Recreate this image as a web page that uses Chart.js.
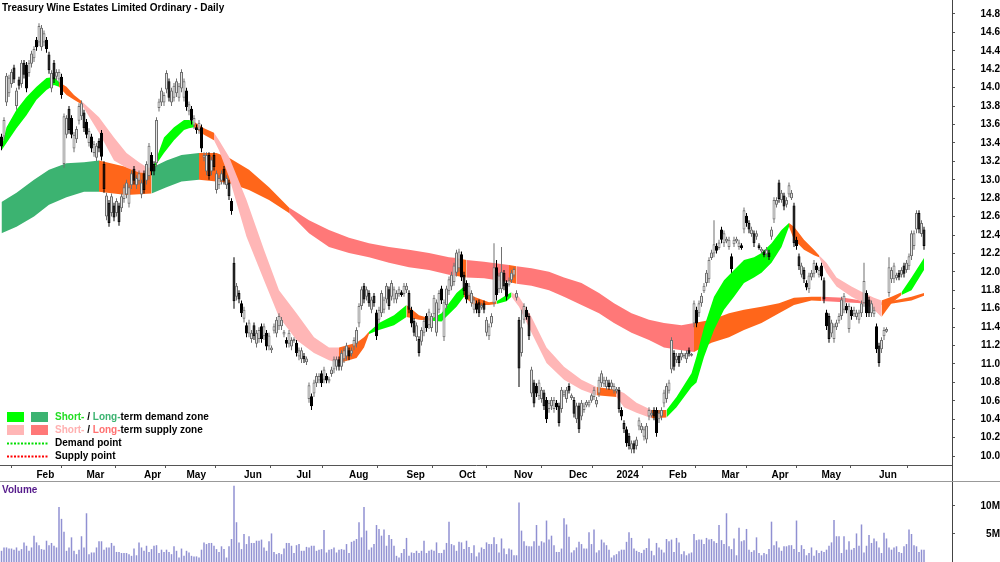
<!DOCTYPE html>
<html><head><meta charset="utf-8">
<script src="https://cdn.jsdelivr.net/npm/chart.js@4.4.1/dist/chart.umd.min.js"></script>
<style>
html,body{margin:0;padding:0;background:#fff;width:1000px;height:562px;overflow:hidden}
#price{position:absolute;left:0;top:0}
#vol{position:absolute;left:0;top:481px}
</style></head><body>
<canvas id="price" width="1000" height="481"></canvas>
<canvas id="vol" width="1000" height="81"></canvas>
<script>
const TITLE = 'Treasury Wine Estates Limited Ordinary - Daily';
const FONT = '"Liberation Sans", Arial, sans-serif';

// month boundaries (bar index) and their labels
const monthIdx = [14,34,57,74,97,118,139,162,183,205,227,246,267,288,308,328,351];
const monthLabels = ['Feb','Mar','Apr','May','Jun','Jul','Aug','Sep','Oct','Nov','Dec','2024','Feb','Mar','Apr','May','Jun'];
const priceTicks = [10.0,10.2,10.4,10.6,10.8,11.0,11.2,11.4,11.6,11.8,12.0,12.2,12.4,12.6,12.8,13.0,13.2,13.4,13.6,13.8,14.0,14.2,14.4,14.6,14.8];
const volTicks = [5, 10];
const volTickLabels = ['5M', '10M'];

const highs = [
13.50,13.68,14.16,14.14,14.20,14.25,14.00,14.12,14.30,14.30,
14.28,14.30,14.40,14.45,14.55,14.70,14.68,14.62,14.55,14.39,
14.19,14.30,14.20,14.20,14.15,13.72,13.70,13.80,13.70,13.52,
13.58,13.83,13.86,13.76,13.66,13.56,13.50,13.42,13.40,13.45,
13.54,13.20,12.86,12.78,12.85,12.75,12.80,12.75,12.85,12.95,
13.00,12.95,13.10,13.15,13.05,13.10,13.00,13.10,13.20,13.40,
13.30,13.20,13.68,13.88,14.00,13.95,14.19,14.10,14.00,14.05,
14.10,14.05,14.20,14.10,14.00,13.85,13.80,13.70,13.60,13.65,
13.60,13.30,13.30,13.30,13.25,13.30,13.10,13.05,13.10,13.15,
13.05,13.00,12.80,12.16,11.88,11.80,11.69,11.62,11.45,11.48,
11.37,11.45,11.37,11.40,11.44,11.44,11.37,11.34,11.20,11.44,
11.51,11.55,11.51,11.37,11.29,11.37,11.29,11.29,11.26,11.18,
11.18,11.12,11.08,10.80,10.68,10.83,10.90,10.90,10.93,10.97,
10.90,10.86,10.97,11.08,11.08,11.08,11.15,11.18,11.23,11.18,
11.18,11.29,11.40,11.66,11.84,11.88,11.84,11.80,11.73,11.77,
11.59,11.62,11.80,11.73,11.88,11.84,11.91,11.84,11.80,11.84,
11.80,11.88,11.88,11.80,11.62,11.50,11.45,11.30,11.40,11.50,
11.55,11.60,11.55,11.75,11.70,11.80,11.85,11.70,11.85,11.95,
12.00,12.10,12.24,12.25,12.22,12.00,11.91,11.88,11.80,11.73,
11.69,11.70,11.66,11.69,11.51,11.44,11.55,12.31,12.13,11.99,
12.27,12.02,11.91,11.94,12.02,12.05,11.80,11.51,11.59,11.66,
11.62,11.55,10.97,10.83,10.79,10.83,10.75,10.72,10.64,10.61,
10.64,10.64,10.61,10.58,10.75,10.72,10.75,10.79,10.68,10.64,
10.58,10.58,10.61,10.58,10.61,10.61,10.68,10.75,10.64,10.86,
10.93,10.86,10.86,10.83,10.83,10.79,10.75,10.75,10.53,10.39,
10.32,10.25,10.17,10.17,10.21,10.42,10.36,10.32,10.36,10.53,
10.50,10.53,10.53,10.50,10.53,10.72,10.79,10.83,11.29,11.15,
11.12,11.12,11.15,11.12,11.15,11.18,11.12,11.69,11.62,11.69,
11.77,11.88,12.02,12.16,12.24,12.56,12.31,12.35,12.49,12.45,
12.38,12.38,12.20,12.38,12.38,12.35,12.31,12.70,12.64,12.56,
12.49,12.45,12.45,12.31,12.27,12.24,12.27,12.24,12.49,12.81,
12.81,13.00,12.89,12.86,12.81,12.97,12.89,12.75,12.38,12.20,
12.10,12.05,11.91,11.99,12.02,12.13,12.10,12.05,12.10,11.94,
11.59,11.55,11.48,11.44,11.48,11.55,11.73,11.77,11.66,11.66,
11.62,11.62,11.59,11.59,11.69,12.10,11.80,11.73,11.69,11.62,
11.44,11.23,11.29,11.40,11.40,12.16,12.05,12.10,11.99,12.02,
12.05,12.10,12.13,12.20,12.45,12.45,12.67,12.67,12.56,12.49];

const lows = [
13.32,13.43,13.80,13.90,14.00,14.05,13.76,13.98,14.00,14.10,
13.95,14.12,14.22,14.28,14.40,14.45,14.40,14.45,14.38,14.15,
13.95,14.05,14.08,14.05,13.88,13.13,13.45,13.50,13.45,13.30,
13.40,13.60,13.65,13.52,13.45,13.36,13.30,13.25,13.20,13.30,
13.21,12.86,12.56,12.49,12.60,12.55,12.60,12.50,12.65,12.75,
12.80,12.70,12.90,12.95,12.90,12.95,12.80,12.85,12.95,13.00,
13.05,13.05,13.14,13.74,13.80,13.80,13.94,13.85,13.80,13.85,
13.90,13.85,13.95,13.85,13.75,13.70,13.60,13.55,13.50,13.50,
13.30,13.20,13.05,13.00,13.05,13.10,12.85,12.90,12.95,12.95,
12.90,12.78,12.62,11.60,11.69,11.66,11.51,11.45,11.29,11.29,
11.23,11.26,11.18,11.23,11.23,11.26,11.15,11.15,11.12,11.33,
11.29,11.37,11.37,11.29,11.18,11.18,11.15,11.23,11.08,11.04,
11.01,11.01,10.99,10.58,10.50,10.64,10.75,10.79,10.75,10.79,
10.79,10.79,10.86,10.90,10.93,10.93,10.93,11.01,11.04,11.04,
11.08,11.15,11.18,11.40,11.59,11.66,11.69,11.62,11.55,11.62,
11.26,11.44,11.51,11.55,11.66,11.59,11.69,11.66,11.66,11.73,
11.73,11.73,11.77,11.55,11.40,11.30,11.25,11.08,11.20,11.30,
11.35,11.38,11.35,11.50,11.30,11.55,11.65,11.25,11.60,11.75,
11.80,11.85,11.95,12.00,11.90,11.75,11.66,11.70,11.62,11.55,
11.55,11.51,11.59,11.55,11.30,11.26,11.40,11.62,11.69,11.77,
11.77,11.80,11.69,11.84,11.88,11.94,11.69,10.75,11.08,11.44,
11.48,11.26,10.64,10.53,10.64,10.61,10.58,10.50,10.36,10.47,
10.50,10.47,10.50,10.32,10.47,10.64,10.58,10.68,10.61,10.42,
10.36,10.25,10.39,10.47,10.53,10.53,10.58,10.61,10.53,10.64,
10.75,10.75,10.72,10.72,10.72,10.68,10.68,10.47,10.39,10.25,
10.10,10.07,10.03,10.03,10.07,10.28,10.25,10.17,10.14,10.39,
10.42,10.39,10.21,10.36,10.39,10.53,10.58,10.68,10.90,10.93,
11.01,10.97,11.04,11.06,11.01,11.08,11.08,11.40,11.40,11.51,
11.62,11.77,11.84,11.88,12.13,12.16,12.20,12.24,12.31,12.27,
12.31,12.24,11.99,12.27,12.31,12.24,12.24,12.42,12.49,12.42,
12.38,12.27,12.35,12.24,12.20,12.16,12.16,12.13,12.35,12.53,
12.70,12.75,12.75,12.67,12.70,12.81,12.78,12.27,12.24,12.02,
11.94,11.88,11.80,11.77,11.91,11.94,11.99,11.94,11.91,11.66,
11.37,11.23,11.29,11.23,11.37,11.44,11.48,11.55,11.55,11.34,
11.48,11.51,11.48,11.44,11.51,11.62,11.51,11.51,11.51,11.51,
11.12,10.97,11.12,11.26,11.34,11.73,11.88,11.88,11.91,11.91,
11.94,11.94,11.99,12.02,12.13,12.24,12.42,12.42,12.38,12.24];

const opens = [
13.47,13.47,13.84,13.94,14.04,14.22,13.80,14.09,14.04,14.27,
14.25,14.16,14.26,14.32,14.52,14.49,14.44,14.49,14.52,14.36,
13.99,14.27,14.12,14.09,14.12,13.17,13.49,13.77,13.67,13.34,
13.44,13.64,13.69,13.73,13.63,13.40,13.47,13.29,13.24,13.42,
13.51,13.17,12.60,12.75,12.64,12.72,12.64,12.72,12.69,12.79,
12.84,12.74,12.94,13.12,12.94,12.99,12.84,13.07,12.99,13.04,
13.27,13.17,13.18,13.78,13.84,13.84,13.98,14.07,13.84,13.89,
13.94,13.89,13.99,13.89,13.97,13.74,13.77,13.59,13.57,13.54,
13.57,13.24,13.09,13.27,13.09,13.27,12.89,12.94,12.99,13.12,
12.94,12.97,12.77,12.10,11.73,11.77,11.66,11.49,11.42,11.33,
11.27,11.42,11.22,11.27,11.41,11.30,11.34,11.19,11.15,11.36,
11.33,11.41,11.41,11.32,11.26,11.22,11.19,11.25,11.23,11.08,
11.05,11.09,11.02,10.62,10.65,10.68,10.79,10.82,10.90,10.83,
10.87,10.81,10.89,10.94,10.97,11.05,10.97,11.05,11.08,11.15,
11.11,11.19,11.22,11.44,11.63,11.85,11.73,11.77,11.59,11.74,
11.56,11.48,11.55,11.59,11.70,11.81,11.73,11.70,11.70,11.76,
11.78,11.76,11.80,11.77,11.59,11.47,11.29,11.27,11.24,11.34,
11.52,11.42,11.39,11.54,11.34,11.59,11.82,11.29,11.64,11.79,
11.84,11.89,11.99,12.04,12.19,11.97,11.88,11.74,11.66,11.59,
11.66,11.67,11.61,11.66,11.34,11.30,11.44,11.66,12.05,11.81,
11.81,11.99,11.88,11.86,11.91,11.96,11.72,11.48,11.12,11.48,
11.59,11.52,10.68,10.80,10.76,10.65,10.62,10.69,10.61,10.51,
10.54,10.51,10.58,10.55,10.51,10.66,10.62,10.76,10.63,10.61,
10.40,10.55,10.43,10.50,10.55,10.55,10.60,10.64,10.56,10.68,
10.79,10.78,10.75,10.80,10.75,10.71,10.70,10.72,10.50,10.36,
10.29,10.22,10.07,10.14,10.11,10.32,10.28,10.21,10.18,10.43,
10.44,10.50,10.50,10.40,10.43,10.57,10.62,10.71,10.94,11.12,
11.04,11.09,11.07,11.08,11.05,11.15,11.09,11.44,11.59,11.55,
11.66,11.79,11.88,11.92,12.15,12.20,12.28,12.26,12.46,12.31,
12.33,12.27,12.17,12.30,12.33,12.27,12.29,12.46,12.61,12.53,
12.41,12.42,12.38,12.29,12.22,12.22,12.19,12.21,12.38,12.57,
12.73,12.97,12.78,12.83,12.73,12.84,12.80,12.72,12.35,12.17,
11.97,12.02,11.88,11.81,11.94,11.98,12.07,11.97,12.07,11.91,
11.56,11.52,11.33,11.27,11.40,11.47,11.52,11.59,11.63,11.38,
11.59,11.54,11.51,11.48,11.55,11.66,11.77,11.70,11.55,11.54,
11.41,11.20,11.16,11.30,11.35,11.77,11.92,11.92,11.93,11.99,
11.97,12.07,12.02,12.06,12.17,12.28,12.46,12.64,12.41,12.46];

const closes = [
13.36,13.65,14.13,14.11,14.17,14.09,13.97,14.02,14.27,14.14,
13.99,14.27,14.37,14.42,14.44,14.67,14.65,14.59,14.42,14.19,
14.16,14.09,14.17,14.17,13.92,13.69,13.67,13.54,13.49,13.49,
13.55,13.80,13.83,13.56,13.49,13.53,13.34,13.39,13.37,13.34,
13.25,12.90,12.83,12.53,12.82,12.59,12.77,12.54,12.82,12.92,
12.97,12.92,13.07,12.99,13.02,13.07,12.97,12.89,13.17,13.37,
13.09,13.09,13.65,13.85,13.97,13.92,14.16,13.89,13.97,14.02,
14.07,14.02,14.17,14.07,13.79,13.82,13.64,13.67,13.54,13.62,
13.34,13.27,13.27,13.04,13.22,13.14,13.07,13.02,13.07,12.99,
13.02,12.82,12.66,11.68,11.85,11.70,11.55,11.59,11.33,11.45,
11.34,11.30,11.34,11.37,11.27,11.41,11.19,11.31,11.18,11.41,
11.48,11.52,11.48,11.35,11.22,11.34,11.26,11.27,11.12,11.15,
11.15,11.05,11.06,10.77,10.54,10.80,10.87,10.87,10.79,10.94,
10.82,10.84,10.94,11.05,11.05,10.97,11.12,11.15,11.20,11.08,
11.15,11.26,11.37,11.63,11.81,11.70,11.81,11.66,11.70,11.66,
11.30,11.59,11.77,11.70,11.85,11.63,11.88,11.81,11.77,11.81,
11.75,11.85,11.85,11.59,11.44,11.34,11.42,11.12,11.37,11.47,
11.39,11.57,11.52,11.72,11.67,11.77,11.69,11.67,11.82,11.92,
11.97,12.07,12.21,12.22,11.94,11.79,11.70,11.85,11.77,11.70,
11.59,11.55,11.64,11.59,11.48,11.41,11.52,12.05,11.75,11.96,
12.00,11.84,11.73,11.91,11.99,12.03,11.77,10.95,11.40,11.63,
11.51,11.30,10.94,10.57,10.68,10.80,10.72,10.54,10.40,10.58,
10.61,10.61,10.53,10.36,10.72,10.70,10.72,10.71,10.66,10.46,
10.55,10.29,10.58,10.55,10.59,10.59,10.66,10.72,10.61,10.83,
10.90,10.83,10.83,10.75,10.80,10.76,10.73,10.51,10.43,10.29,
10.14,10.11,10.14,10.07,10.18,10.39,10.33,10.29,10.33,10.50,
10.47,10.43,10.25,10.47,10.50,10.69,10.76,10.80,11.26,10.97,
11.09,11.01,11.12,11.10,11.12,11.11,11.11,11.66,11.44,11.66,
11.74,11.85,11.99,12.13,12.21,12.30,12.23,12.32,12.35,12.42,
12.36,12.35,12.03,12.35,12.36,12.32,12.26,12.67,12.53,12.46,
12.46,12.31,12.42,12.26,12.25,12.18,12.24,12.16,12.46,12.78,
12.78,12.79,12.86,12.71,12.78,12.94,12.86,12.31,12.28,12.06,
12.07,11.92,11.83,11.96,11.99,12.10,12.02,12.02,11.95,11.70,
11.41,11.27,11.45,11.41,11.45,11.52,11.70,11.74,11.58,11.63,
11.52,11.59,11.56,11.56,11.66,11.90,11.55,11.55,11.66,11.59,
11.16,11.01,11.26,11.37,11.38,12.05,12.02,12.07,11.97,11.94,
12.02,11.98,12.10,12.17,12.42,12.42,12.64,12.46,12.53,12.28];

// volume in millions
const volumes = [
2.0,2.6,2.6,2.4,2.4,2.2,2.6,2.0,2.3,3.5,
2.9,2.0,2.6,4.7,3.5,3.0,2.3,2.2,3.8,3.0,
3.4,2.9,2.6,9.8,7.7,5.4,2.0,2.6,4.4,2.0,
1.4,2.2,4.6,2.6,8.7,1.4,1.7,1.7,2.6,3.7,
3.7,2.2,2.6,2.6,3.4,2.9,1.8,1.8,1.6,1.6,
1.6,1.4,1.1,2.4,1.2,3.5,2.6,2.0,2.9,1.8,
2.3,2.9,3.0,1.6,2.2,1.8,2.2,1.8,1.4,2.8,
2.0,0.8,2.4,1.1,2.0,1.7,1.1,1.0,1.0,0.8,
2.2,3.5,3.2,3.4,3.4,2.9,2.3,1.8,2.8,2.3,
0.8,2.8,4.1,13.6,7.1,3.5,2.3,5.0,3.2,4.6,
3.4,3.4,3.8,3.8,4.0,2.6,2.0,3.7,5.1,1.8,
1.4,1.6,1.4,2.4,3.4,3.4,2.9,1.6,3.0,3.2,
2.0,2.0,2.7,2.6,2.9,2.9,2.0,2.2,2.3,5.7,
1.7,2.2,2.3,2.6,1.7,2.2,2.3,2.2,3.2,1.6,
3.6,3.8,4.1,7.1,4.4,9.8,5.6,2.2,2.6,3.2,
6.6,5.9,4.7,5.8,2.9,4.8,4.1,2.9,1.1,0.8,
1.6,2.3,4.3,1.1,1.7,1.6,2.0,1.6,2.0,3.8,
1.6,2.0,2.2,2.0,3.5,1.6,1.6,2.2,3.4,7.2,
3.2,3.0,2.0,3.6,3.5,2.3,3.8,2.7,1.6,3.0,
1.0,1.7,2.6,2.3,3.5,3.2,3.2,4.4,3.2,1.7,
4.2,2.4,1.4,2.4,2.2,1.2,1.2,10.6,5.6,3.7,
2.9,2.8,2.8,3.7,6.6,2.9,3.7,3.5,7.4,4.0,
4.7,3.0,1.8,1.8,2.4,7.8,6.7,4.5,1.7,2.1,
2.6,3.6,3.2,2.4,2.4,5.3,3.2,5.8,1.7,2.1,
4.0,3.5,3.0,2.2,0.8,1.2,1.4,1.9,2.2,2.2,
3.6,5.3,4.3,2.4,2.0,1.8,1.6,2.2,2.5,4.2,
2.0,1.2,3.4,2.6,2.2,1.7,4.1,3.7,4.0,1.8,
4.3,3.5,1.4,1.9,1.2,1.5,1.7,5.0,3.9,4.0,
4.0,3.2,4.3,4.0,4.1,3.7,3.4,6.6,3.9,3.2,
8.7,2.8,2.3,4.2,1.2,6.1,3.7,3.9,5.9,2.2,
1.8,2.1,4.4,1.6,1.2,1.6,1.4,2.3,7.2,3.0,
3.7,2.6,2.0,2.8,2.8,3.0,3.0,2.3,7.4,1.8,
3.0,2.3,1.2,1.6,2.6,1.1,2.1,1.6,2.0,1.8,
2.2,2.9,3.5,7.5,4.6,4.6,1.6,4.6,2.2,3.7,
2.2,2.5,5.1,2.9,6.7,1.7,2.9,4.8,3.4,4.2,
3.7,2.6,1.6,5.2,4.2,2.6,2.2,2.6,2.8,1.8,
1.6,2.8,3.2,5.8,5.0,3.0,2.8,1.8,2.2,2.2];

// short-term zone: two edges at sampled bars, zone code per segment start
const stIdx = [0,2,6,10,14,18,21,23,26,29,32,39,45,50,55,58,59,61,65,69,73,75,77,81,85,87,91,98,105,111,118,125,131,135,142,145,147,151,157,162,167,172,176,182,185,189,195,198,202,204,207,212,218,225,232,238,246,249,254,260,266,270,276,278,281,285,289,293,297,301,304,308,312,315,317,321,325,327,330,334,340,345,349,352,356,360,364,369];
const stA = [13.345,13.57,13.76,13.90,14.01,14.105,14.116,14.062,14.01,13.92,
13.855,13.68,13.46,13.29,13.19,13.14,13.12,13.16,13.46,13.57,
13.65,13.65,13.63,13.56,13.51,13.43,13.25,12.78,12.24,11.80,
11.55,11.29,11.18,11.18,11.23,11.29,11.35,11.445,11.53,11.64,
11.53,11.49,11.55,11.77,11.84,11.73,11.67,11.68,11.75,11.78,
11.73,11.51,11.18,10.97,10.83,10.75,10.72,10.685,10.58,10.50,
10.50,10.64,10.90,11.08,11.40,11.73,11.91,12.02,12.13,12.16,
12.205,12.31,12.455,12.53,12.49,12.35,12.24,12.18,12.10,11.94,
11.84,11.77,11.72,11.69,11.73,11.78,11.94,12.15];
const stB = [13.32,13.40,13.56,13.70,13.87,13.975,14.03,14.01,13.92,13.87,
13.82,13.51,13.21,13.13,13.08,13.07,13.08,13.13,13.29,13.43,
13.54,13.56,13.57,13.49,13.43,13.32,13.03,12.38,11.91,11.51,
11.26,11.12,11.04,11.01,11.065,11.18,11.325,11.37,11.42,11.51,
11.48,11.47,11.46,11.62,11.73,11.64,11.64,11.65,11.68,11.73,
11.62,11.34,11.01,10.83,10.72,10.66,10.64,10.53,10.47,10.41,
10.42,10.53,10.75,10.80,11.075,11.37,11.59,11.73,11.88,11.94,
11.99,12.10,12.27,12.49,12.35,12.24,12.18,12.16,11.99,11.84,
11.73,11.66,11.59,11.51,11.66,11.75,11.80,12.02];
const stZone = ('GGGGGGG'+'OOO'+'PPPPP'+'OO'+'GGGGG'+'OO'+'PPPPPPPPP'+'OOO'+'GGG'+'OO'+'GGG'+'OOO'+'GG'+
  'PPPPPP'+'O'+'PPP'+'O'+'GGGGGGGGGGGGG'+'OOOO'+'PPPPPP'+'OO'+'GGG').split('');

// long-term zone
const ltIdx = [0,6,13,19,26,33,39,50,60,66,72,79,86,91,99,107,115,123,131,139,147,155,163,171,179,182,186,193,203,206,212,219,225,232,239,245,252,259,265,272,277,284,291,297,304,311,317,324,328,337,344,352,357,364,369];
const ltA = [12.76,12.86,13.00,13.11,13.18,13.19,13.21,13.14,13.13,13.21,
13.27,13.29,13.29,13.24,13.11,12.92,12.70,12.56,12.455,12.37,
12.31,12.27,12.24,12.205,12.16,12.15,12.13,12.11,12.075,12.06,
12.04,12.00,11.94,11.88,11.77,11.66,11.55,11.48,11.445,11.42,
11.445,11.48,11.55,11.59,11.62,11.66,11.72,11.73,11.73,11.72,
11.69,11.67,11.69,11.73,11.77];
const ltB = [12.42,12.49,12.60,12.73,12.81,12.87,12.87,12.835,12.85,12.92,
12.98,13.00,12.98,12.965,12.89,12.78,12.64,12.42,12.27,12.205,
12.16,12.10,12.05,12.02,11.97,11.955,11.94,11.93,11.89,11.87,
11.85,11.80,11.73,11.64,11.55,11.445,11.34,11.26,11.18,11.15,
11.13,11.23,11.29,11.37,11.445,11.55,11.64,11.69,11.685,11.67,
11.66,11.64,11.66,11.69,11.74];
const ltZone = ('DDDDDD'+'OO'+'DDD'+'OOOOO'+'RRRRRRRRR'+'O'+'RR'+'O'+'RRRRRRRRRRR'+'OOOOOOOO'+'RRR'+'OOOO').split('');

const zoneColours = { G: '#00ff00', D: '#3cb371', P: '#ffb6b6', R: '#ff7878', O: '#ff661a' };

const X_MIN = -0.6, X_MAX = 380.2;
const Y_MIN = 9.903, Y_MAX = 14.952;

const datasets = [];
function addBand(idx, a, b, zone, order) {
  let s = 0;
  for (let k = 1; k < idx.length; k++) {
    const last = k === idx.length - 1;
    if (zone[k] !== zone[s] || last) {
      const col = zoneColours[zone[s]];
      const da = [], db = [];
      for (let j = s; j <= k; j++) { da.push({x: idx[j], y: a[j]}); db.push({x: idx[j], y: b[j]}); }
      const base = {type: 'line', pointRadius: 0, pointHoverRadius: 0, borderWidth: 0,
        borderColor: 'rgba(0,0,0,0)', tension: 0, order: order};
      const ia = datasets.length;
      datasets.push(Object.assign({}, base, {data: da, fill: false}));
      datasets.push(Object.assign({}, base, {data: db, fill: ia, backgroundColor: col}));
      s = k;
    }
  }
}
addBand(ltIdx, ltA, ltB, ltZone, 40);
addBand(stIdx, stA, stB, stZone, 30);

const wickData = [], bodyData = [], wickCol = [], bodyCol = [], bodyBorder = [];
for (let i = 0; i < closes.length; i++) {
  const up = closes[i] >= opens[i];
  wickData.push({x: i, y: [lows[i], highs[i]]});
  bodyData.push({x: i, y: [Math.min(opens[i], closes[i]), Math.max(opens[i], closes[i])]});
  wickCol.push(up ? '#707070' : '#000000');
  bodyCol.push(up ? '#e4e4e4' : '#000000');
  bodyBorder.push(up ? '#707070' : '#000000');
}
datasets.push({type: 'bar', data: wickData, backgroundColor: wickCol, barThickness: 1, grouped: false,
  borderWidth: 0, inflateAmount: 0, order: 2});
datasets.push({type: 'bar', data: bodyData, backgroundColor: bodyCol, borderColor: bodyBorder, borderWidth: 1,
  borderSkipped: false, barThickness: 3, grouped: false, inflateAmount: 0, order: 1});

function drawParts(ctx, x, y, parts) {
  for (const p of parts) { ctx.fillStyle = p[1]; ctx.fillText(p[0], x, y); x += ctx.measureText(p[0]).width; }
}

const decoPlugin = {
  id: 'deco',
  afterDraw(chart) {
    const ctx = chart.ctx, ca = chart.chartArea;
    ctx.save();
    const vx = Math.floor(ca.right) + 0.5;
    ctx.strokeStyle = '#444'; ctx.lineWidth = 1;
    ctx.beginPath(); ctx.moveTo(vx, ca.bottom); ctx.lineTo(vx, chart.height); ctx.stroke();
    ctx.textBaseline = 'middle'; ctx.textAlign = 'left';
    ctx.font = 'bold 10px ' + FONT; ctx.fillStyle = '#000';
    ctx.fillText(TITLE, 2, 8);
    // legend
    ctx.fillStyle = zoneColours.G; ctx.fillRect(7, 412, 17, 10);
    ctx.fillStyle = zoneColours.D; ctx.fillRect(31, 412, 17, 10);
    ctx.fillStyle = zoneColours.P; ctx.fillRect(7, 425, 17, 10);
    ctx.fillStyle = zoneColours.R; ctx.fillRect(31, 425, 17, 10);
    drawParts(ctx, 55, 417, [['Short-', '#22dd22'], [' / ', '#000'], ['Long-', '#3cb371'], ['term demand zone', '#000']]);
    drawParts(ctx, 55, 430, [['Short-', '#ffb0b0'], [' / ', '#000'], ['Long-', '#ff7070'], ['term supply zone', '#000']]);
    ctx.lineWidth = 2; ctx.setLineDash([2, 1.5]);
    ctx.strokeStyle = '#00dd00';
    ctx.beginPath(); ctx.moveTo(7, 443.5); ctx.lineTo(48, 443.5); ctx.stroke();
    ctx.strokeStyle = '#ff0000';
    ctx.beginPath(); ctx.moveTo(7, 456.5); ctx.lineTo(48, 456.5); ctx.stroke();
    ctx.setLineDash([]);
    ctx.fillStyle = '#000';
    ctx.fillText('Demand point', 55, 443);
    ctx.fillText('Supply point', 55, 456);
    ctx.restore();
  }
};

const tickFont = {family: FONT, size: 10, weight: 'bold'};

new Chart(document.getElementById('price'), {
  type: 'line',
  data: {datasets: datasets},
  options: {
    responsive: false, animation: false, events: [],
    layout: {padding: 0},
    plugins: {legend: {display: false}, tooltip: {enabled: false}},
    scales: {
      x: {
        type: 'linear', min: X_MIN, max: X_MAX, offset: false,
        afterBuildTicks: s => { s.ticks = monthIdx.map(v => ({value: v})); },
        afterFit: s => { s.height = 16; s.paddingLeft = 0; s.paddingRight = 0; },
        ticks: {autoSkip: false, maxRotation: 0, minRotation: 0, align: 'start', padding: 1,
          color: '#000', font: tickFont, callback: (v, i) => monthLabels[i]},
        grid: {display: true, drawOnChartArea: false, drawTicks: true, tickLength: 3, color: '#555'},
        border: {display: true, color: '#555'}
      },
      y: {
        type: 'linear', position: 'right', min: Y_MIN, max: Y_MAX,
        afterBuildTicks: s => { s.ticks = priceTicks.map(v => ({value: v})); },
        afterFit: s => { s.width = 48; s.paddingTop = 0; s.paddingBottom = 0; },
        ticks: {crossAlign: 'far', padding: 24, color: '#000', font: tickFont,
          callback: v => Number(v).toFixed(1)},
        grid: {display: true, drawOnChartArea: false, drawTicks: true, tickLength: 3, color: '#555'},
        border: {display: true, color: '#444'}
      }
    }
  },
  plugins: [decoPlugin]
});

const volPlugin = {
  id: 'volDeco',
  afterDraw(chart) {
    const ctx = chart.ctx;
    ctx.save();
    ctx.strokeStyle = '#999'; ctx.lineWidth = 1;
    ctx.beginPath(); ctx.moveTo(0, 0.5); ctx.lineTo(chart.width, 0.5); ctx.stroke();
    ctx.font = 'bold 10px ' + FONT; ctx.fillStyle = '#551a8b';
    ctx.textBaseline = 'middle'; ctx.textAlign = 'left';
    ctx.fillText('Volume', 2, 9);
    ctx.restore();
  }
};

new Chart(document.getElementById('vol'), {
  type: 'bar',
  data: {datasets: [{data: volumes.map((v, i) => ({x: i, y: v})), backgroundColor: '#9090d2',
    barThickness: 1.5, grouped: false, borderWidth: 0, inflateAmount: 0}]},
  options: {
    responsive: false, animation: false, events: [],
    layout: {padding: 0},
    plugins: {legend: {display: false}, tooltip: {enabled: false}},
    scales: {
      x: {type: 'linear', min: X_MIN, max: X_MAX, offset: false, display: false},
      y: {
        type: 'linear', position: 'right', min: 0, max: 14.46,
        afterBuildTicks: s => { s.ticks = volTicks.map(v => ({value: v})); },
        afterFit: s => { s.width = 48; s.paddingTop = 0; s.paddingBottom = 0; },
        ticks: {crossAlign: 'far', padding: 24, color: '#000', font: tickFont,
          callback: (v, i) => volTickLabels[i]},
        grid: {display: true, drawOnChartArea: false, drawTicks: true, tickLength: 3, color: '#555'},
        border: {display: true, color: '#444'}
      }
    }
  },
  plugins: [volPlugin]
});
</script>
</body></html>
